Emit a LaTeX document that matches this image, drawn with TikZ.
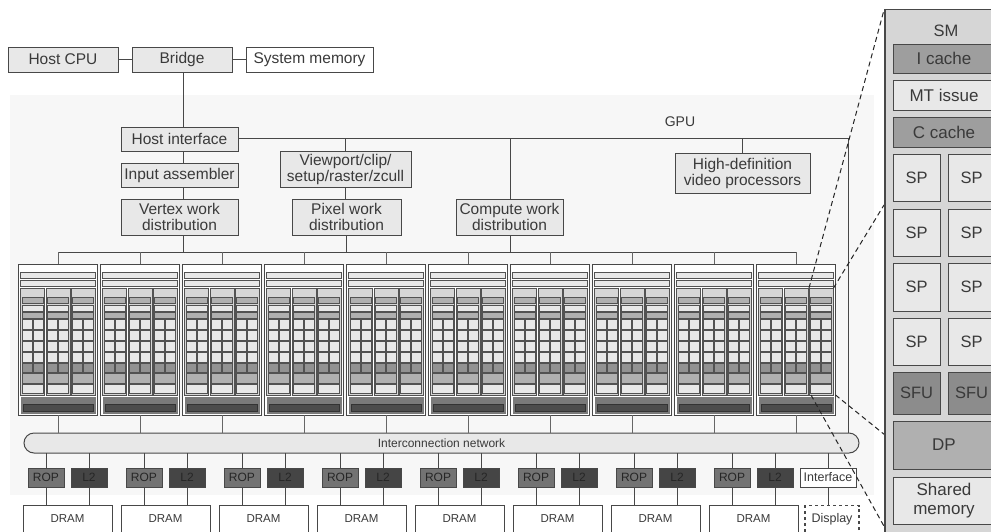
\documentclass[tikz,border=0pt]{standalone}
\usepackage{fontspec}
\setmainfont{Liberation Sans}
\definecolor{ink}{HTML}{3A3A3A}
\definecolor{bd}{HTML}{484848}
\definecolor{lt}{HTML}{E8E8E8}
\definecolor{mdg}{HTML}{B0B0B0}
\definecolor{dkg}{HTML}{929292}
\definecolor{pan}{HTML}{D6D6D6}
\tikzset{
  x=1pt,y=-1pt,
  box/.style={draw=bd,line width=1pt,text=ink,align=center,inner sep=0pt,outer sep=0pt},
  txtA/.style={font=\fontsize{15.5}{16}\selectfont},
  txtB/.style={font=\fontsize{12}{13}\selectfont},
  txtC/.style={font=\fontsize{17}{19.5}\selectfont},
  wire/.style={draw=bd,line width=1pt},
  tee/.style={draw=black!60,line width=1pt},
  zoomline/.style={draw=black!85,line width=1pt,dash pattern=on 5pt off 3.5pt},
  part/.style={draw=black!68,line width=1pt},
}
% name, x1, y1, x2, y2, options, text
\newcommand{\bx}[7]{%
  \pgfmathsetmacro{\bxw}{(#4)-(#2)}\pgfmathsetmacro{\bxh}{(#5)-(#3)}%
  \pgfmathsetmacro{\bxcx}{((#2)+(#4))/2}\pgfmathsetmacro{\bxcy}{((#3)+(#5))/2}%
  \node[box,minimum width=\bxw pt,minimum height=\bxh pt,#6] (#1) at (\bxcx,\bxcy) {#7};}
\begin{document}
\begin{tikzpicture}
\clip (0,0) rectangle (991,531);
\fill[white] (0,0) rectangle (991,531);
% GPU background
\fill[black!3] (10,95) rectangle (874,495);
% top row
\bx{cpu}{8}{47}{118}{72}{fill=lt,txtA}{Host CPU}
\bx{bridge}{132}{47}{232}{72}{fill=lt,txtA}{Bridge}
\bx{sysmem}{246}{47}{373}{72}{fill=white,txtA}{System memory}
\bx{hif}{121}{127}{238}{151}{fill=lt,txtA}{Host interface}
\bx{ia}{121}{163}{238}{187}{fill=lt,txtA}{Input assembler}
\bx{vwd}{121}{199}{238}{235}{fill=lt,txtA}{Vertex work\\distribution}
\bx{vp}{280}{151}{411}{187}{fill=lt,txtA}{Viewport/clip/\\setup/raster/zcull}
\bx{pwd}{292}{199}{401}{235}{fill=lt,txtA}{Pixel work\\distribution}
\bx{cwd}{456}{199}{563}{235}{fill=lt,txtA}{Compute work\\distribution}
\bx{hd}{675}{153}{810}{193}{fill=lt,txtA}{High-definition\\video processors}
\node[text=ink,font=\fontsize{14}{16}\selectfont,inner sep=0pt] (gpu) at (680,122) {GPU};
% interconnect
\bx{net}{24}{433}{859}{453}{fill=lt,rounded corners=10pt,txtB}{Interconnection network}
% wires
\coordinate (spine) at (183,100);
\coordinate (corner) at (848,138.5);
\coordinate (busL) at (59,252);
\coordinate (busR) at (797,252);
\draw[wire] (cpu) -- (bridge);
\draw[wire] (bridge) -- (sysmem);
\draw[wire] (spine |- bridge.south) -- (spine |- hif.north);
\draw[wire] (spine |- hif.south) -- (spine |- ia.north);
\draw[wire] (spine |- ia.south) -- (spine |- vwd.north);
\draw[wire] (spine |- vwd.south) -- (spine |- busL);
\draw[wire] (hif.east |- corner) -- (corner) -- (corner |- net.north);
\draw[wire] (vp.north |- corner) -- (vp.north);
\draw[wire] (vp.south) -- (vp.south |- pwd.north);
\draw[wire] (pwd.south) -- (pwd.south |- busL);
\draw[wire] (510,138.5) -- (510,199);
\draw[wire] (510,235) -- (510,252);
\draw[wire] (hd.north |- corner) -- (hd.north);
\draw[wire] (busL) -- (busR);
% texture processor clusters
\foreach \i in {0,...,9}{
  \pgfmathsetmacro{\ox}{18.5+82*\i}
  \bx{t\i}{\ox}{264}{\ox+79}{415}{fill=white}{}
  \draw[tee] (t\i.north |- busL) -- (t\i.north);
  \draw[tee] (t\i.south) -- (t\i.south |- net.north);
  \begin{scope}[shift={(\ox,0)}]
    \draw[part,fill=lt] (2,272) rectangle (76.5,278);
    \draw[part,fill=lt] (2,280) rectangle (76.5,286);
    \foreach \c in {2.2,27.8,52.8}{
      \begin{scope}[shift={(\c,0)}]
        \draw[part,fill=pan] (0,288) rectangle (24,395);
        \draw[part,fill=mdg] (1.5,297) rectangle (22.5,303);
        \draw[part,fill=lt] (1.5,305) rectangle (22.5,311);
        \draw[part,fill=mdg] (1.5,312) rectangle (22.5,318);
        \foreach \y in {319.5,330.5,341.5,352}{
          \draw[part,fill=lt] (1.5,\y) rectangle (11.5,\y+10);
          \draw[part,fill=lt] (12.5,\y) rectangle (22.5,\y+10);
        }
        \draw[part,fill=dkg] (1.5,363) rectangle (11.5,372);
        \draw[part,fill=dkg] (12.5,363) rectangle (22.5,372);
        \draw[part,fill=mdg] (1.5,373) rectangle (22.5,383);
        \draw[part,fill=lt] (1.5,384) rectangle (22.5,393.5);
      \end{scope}
    }
    \fill[black!52] (2,396.5) rectangle (77,413.5);
    \draw[draw=black!80,line width=.8pt,fill=black!70] (5,404) rectangle (74.5,411.5);
  \end{scope}
}
% memory partitions
\foreach \i in {0,...,7}{
  \pgfmathsetmacro{\ox}{98*\i}
  \bx{rop\i}{28+\ox}{468}{64+\ox}{487}{fill=black!55,txtB,text=black!85}{ROP}
  \bx{ltwo\i}{71+\ox}{468}{107+\ox}{487}{fill=black!73,txtB,text=black!85}{L2}
  \bx{dram\i}{23+\ox}{505}{112+\ox}{560}{fill=white}{}
  \node[text=ink,font=\fontsize{11.5}{13}\selectfont,inner sep=0pt] (dl\i) at (67.5+\ox,519) {DRAM};
  \draw[wire] (rop\i.north |- net.south) -- (rop\i.north);
  \draw[wire] (ltwo\i.north |- net.south) -- (ltwo\i.north);
  \draw[wire] (rop\i.south) -- (rop\i.south |- dram\i.north);
  \draw[wire] (ltwo\i.south) -- (ltwo\i.south |- dram\i.north);
}
\bx{iface}{800}{468}{856}{487}{fill=white,font=\fontsize{12.5}{14}\selectfont}{Interface}
\bx{disp}{805}{505.5}{859}{560}{fill=white,dashed,line width=1.3pt}{}
\node[text=ink,font=\fontsize{12.5}{14}\selectfont,inner sep=0pt] (dispt) at (832,519) {Display};
\draw[wire] (iface.north |- net.south) -- (iface.north);
\draw[wire] (iface.south) -- (iface.south |- disp.north);
% zoom lines
\coordinate (za) at (809,288);
\coordinate (zb) at (833.5,288);
\coordinate (zc) at (811,395);
\coordinate (zd) at (835.5,395);
\coordinate (pa) at (884,10);
\coordinate (pb) at (884,205);
\coordinate (pc) at (885,528);
\coordinate (pd) at (885,435);
\draw[zoomline] (za) -- (pa);
\draw[zoomline] (zb) -- (pb);
\draw[zoomline] (zc) -- (pc);
\draw[zoomline] (zd) -- (pd);
% streaming multiprocessor panel
\bx{sm}{885}{9.5}{1010}{560}{fill=pan,line width=1.2pt}{}
\node[text=ink,font=\fontsize{16.5}{19}\selectfont,inner sep=0pt] (smt) at (946,31) {SM};
\bx{ic}{893}{44}{995}{73}{fill=black!38,txtC}{I cache}
\bx{mt}{893}{80}{995}{110}{fill=lt,txtC}{MT issue}
\bx{cc}{893}{117}{995}{147}{fill=black!38,txtC}{C cache}
\foreach \n/\a/\b in {1/154/201,2/209/256,3/263/311,4/318/365}{
  \bx{spa\n}{893}{\a}{940}{\b}{fill=lt,font=\fontsize{16.5}{19}\selectfont}{SP}
  \bx{spb\n}{948}{\a}{995}{\b}{fill=lt,font=\fontsize{16.5}{19}\selectfont}{SP}
}
\bx{sfua}{893}{372}{940}{414}{fill=black!45,font=\fontsize{16.5}{19}\selectfont}{SFU}
\bx{sfub}{948}{372}{995}{414}{fill=black!45,font=\fontsize{16.5}{19}\selectfont}{SFU}
\bx{dp}{893}{421}{995}{469}{fill=mdg,txtC}{DP}
\bx{shm}{893}{477}{995}{524}{fill=lt,txtC}{Shared\\memory}
\end{tikzpicture}
\end{document}
